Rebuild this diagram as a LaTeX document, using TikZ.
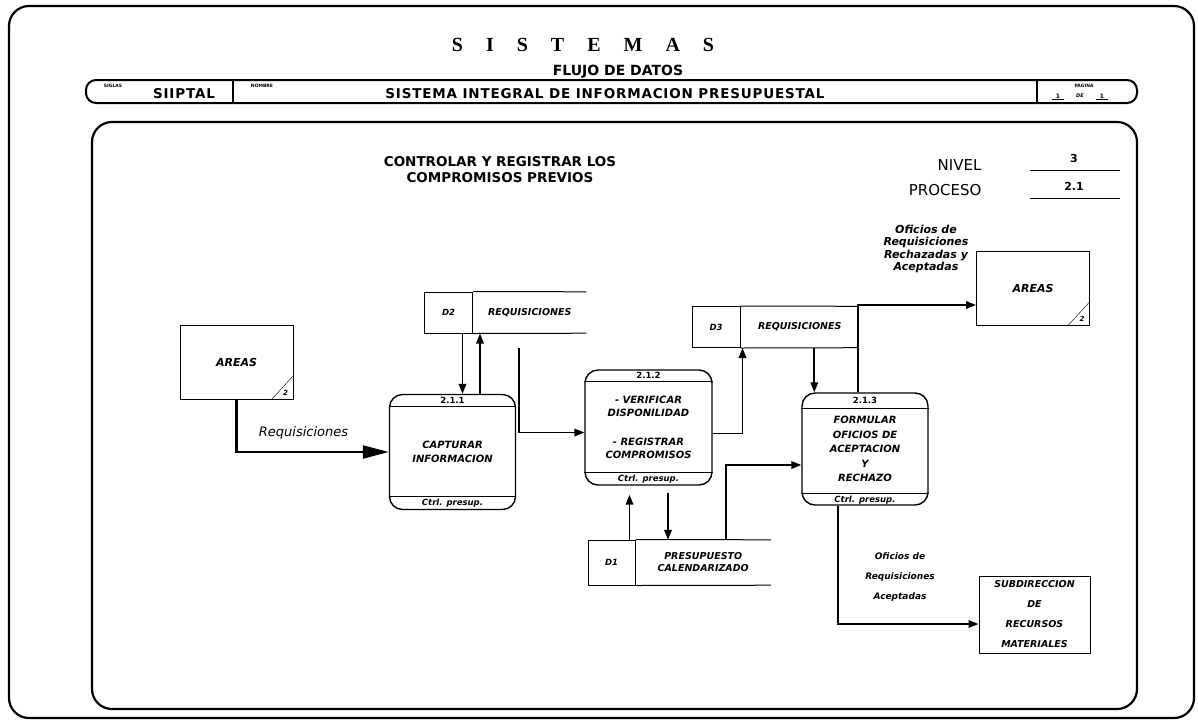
\documentclass[tikz,border=0pt]{standalone}
\usepackage{fontspec}
\setmainfont{DejaVu Sans}
\newfontfamily\titlefont{Liberation Serif}
\usetikzlibrary{arrows.meta,positioning}

\begin{document}
\begin{tikzpicture}[
    x=1pt, y=-1pt,
    frame/.style={draw, line width=2.2pt, rounded corners=20pt},
    proc/.style={draw, line width=1.4pt, rounded corners=13pt, minimum width=126pt, minimum height=115pt, inner sep=0pt, align=center, font=\fontsize{10}{14}\selectfont\bfseries\itshape},
    procid/.style={inner sep=1pt, font=\fontsize{8.5}{9}\selectfont\bfseries},
    ctrl/.style={inner sep=1pt, font=\fontsize{8.5}{9}\selectfont\bfseries\itshape},
    storeid/.style={draw, line width=1pt, minimum width=48pt, minimum height=41pt, inner sep=0pt, font=\fontsize{8.5}{9}\selectfont\bfseries\itshape},
    storenm/.style={minimum height=41pt, inner sep=0pt, align=center, font=\fontsize{9.5}{12}\selectfont\bfseries\itshape},
    entity/.style={draw, line width=1pt, minimum width=113pt, minimum height=74pt, align=center, font=\fontsize{11}{13}\selectfont\bfseries\itshape},
    tag/.style={inner sep=0pt, font=\fontsize{7}{8}\selectfont\bfseries\itshape},
    flow/.style={line width=1.9pt, -{Triangle[length=10pt,width=7.5pt]}},
    bigflow/.style={line width=2.2pt, -{Triangle[length=26pt,width=13pt]}},
    lbl/.style={inner sep=0pt, align=center, font=\fontsize{13}{15}\selectfont\itshape},
    hdr/.style={font=\fontsize{13.5}{16}\selectfont\bfseries\addfontfeature{LetterSpace=6}},
    tiny/.style={inner sep=0pt, font=\fontsize{4.5}{5}\selectfont\bfseries}
]
\useasboundingbox (0,0) rectangle (1198,721);

% sheet and header
\draw[frame] (9,6) rectangle (1194,718);
\draw[frame] (92,122) rectangle (1137,709);
\node[font=\titlefont\fontsize{20}{24}\selectfont\bfseries] (ttl) at (583,45) {\spaceskip=23pt S I S T E M A S};
\node[font=\fontsize{14}{16}\selectfont\bfseries] (ttl2) at (618,72) {FLUJO DE DATOS};

\draw[line width=2pt, rounded corners=10pt] (86,80) rectangle (1137,103);
\draw[line width=1.5pt] (233,80) -- (233,103) (1037,80) -- (1037,103);
\node[tiny] (siglas) at (113,86) {SIGLAS};
\node[hdr] (sist) at (184,94) {SIIPTAL};
\node[tiny] (nombre) at (262,86) {NOMBRE};
\node[hdr] (nom) at (605,94) {SISTEMA INTEGRAL DE INFORMACION PRESUPUESTAL};
\node[tiny] (pagina) at (1084,86) {PAGINA};
\node[tiny, font=\fontsize{6}{7}\selectfont\bfseries] (pg1) at (1058,96) {1};
\node[tiny, font=\fontsize{5}{6}\selectfont\bfseries\itshape] (pgde) at (1080,96) {DE};
\node[tiny, font=\fontsize{6}{7}\selectfont\bfseries] (pg2) at (1102,96) {1};
\draw (1052,99.5) -- (1064,99.5) (1096,99.5) -- (1108,99.5);

% titles of the level
\node[align=center, font=\fontsize{13.5}{16}\selectfont\bfseries] (tit) at (500,170) {CONTROLAR Y REGISTRAR LOS\\COMPROMISOS PREVIOS};
\node[anchor=east, font=\fontsize{15}{17}\selectfont] (nivel) at (985,165) {NIVEL};
\node[font=\fontsize{11}{13}\selectfont\bfseries] (nivn) at (1074,158) {3};
\draw (1030,170) -- (1120,170);
\node[anchor=east, font=\fontsize{15}{17}\selectfont] (proceso) at (985,190) {PROCESO};
\node[font=\fontsize{11}{13}\selectfont\bfseries] (procn) at (1074,186) {2.1};
\draw (1030,198) -- (1120,198);

% external entities
\node[entity] (a1) at (236.5,362) {AREAS};
\draw[thin] ([xshift=-22pt]a1.south east) -- ([yshift=24pt]a1.south east);
\node[tag] (a1k) at ([xshift=-8pt,yshift=7pt]a1.south east) {2};
\node[entity] (a2) at (1033,288) {AREAS};
\draw[thin] ([xshift=-22pt]a2.south east) -- ([yshift=24pt]a2.south east);
\node[tag] (a2k) at ([xshift=-8pt,yshift=7pt]a2.south east) {2};
\node[entity, minimum width=111pt, minimum height=77pt, font=\fontsize{9.5}{20}\selectfont\bfseries\itshape] (sub) at (1034.5,614.5) {SUBDIRECCION\\DE\\RECURSOS\\MATERIALES};

% data stores
\node[storeid] (d2id) at (448.5,312.5) {D2};
\node[storenm, minimum width=113pt, right=0pt of d2id] (d2nm) {REQUISICIONES};
\draw[line width=1pt] (d2id.north east) -- (d2nm.north east) (d2id.south east) -- (d2nm.south east);
\node[storeid] (d3id) at (716,327) {D3};
\node[storenm, minimum width=118pt, right=0pt of d3id] (d3nm) {REQUISICIONES};
\draw[line width=1pt] (d3id.north east) -- (d3nm.north east) (d3id.south east) -- (d3nm.south east);
\node[storeid, minimum width=47pt, minimum height=45pt] (d1id) at (611.5,562.5) {D1};
\node[storenm, minimum width=135pt, minimum height=45pt, right=0pt of d1id] (d1nm) {PRESUPUESTO\\CALENDARIZADO};
\draw[line width=1pt] (d1id.north east) -- (d1nm.north east) (d1id.south east) -- (d1nm.south east);

% processes
\node[proc] (p211) at (452.5,452) {CAPTURAR\\INFORMACION};
\draw[line width=1pt] ([yshift=-13pt]p211.north west) -- ([yshift=-13pt]p211.north east);
\draw[line width=1pt] ([yshift=14pt]p211.south west) -- ([yshift=14pt]p211.south east);
\node[procid] (p211n) at ([yshift=-6.5pt]p211.north) {2.1.1};
\node[ctrl] (p211c) at ([yshift=7pt]p211.south) {Ctrl. presup.};

\node[proc, minimum width=127pt, font=\fontsize{10}{13}\selectfont\bfseries\itshape] (p212) at (648.5,427.5) {- VERIFICAR\\DISPONILIDAD\\[16pt]- REGISTRAR\\COMPROMISOS};
\draw[line width=1pt] ([yshift=-12pt]p212.north west) -- ([yshift=-12pt]p212.north east);
\draw[line width=1pt] ([yshift=13pt]p212.south west) -- ([yshift=13pt]p212.south east);
\node[procid] (p212n) at ([yshift=-6pt]p212.north) {2.1.2};
\node[ctrl] (p212c) at ([yshift=6.5pt]p212.south) {Ctrl. presup.};

\node[proc, minimum height=112pt, font=\fontsize{10}{14.5}\selectfont\bfseries\itshape] (p213) at (865,449) {FORMULAR\\OFICIOS DE\\ACEPTACION\\Y\\RECHAZO};
\draw[line width=1pt] ([yshift=-16pt]p213.north west) -- ([yshift=-16pt]p213.north east);
\draw[line width=1pt] ([yshift=12pt]p213.south west) -- ([yshift=12pt]p213.south east);
\node[procid] (p213n) at ([yshift=-8pt]p213.north) {2.1.3};
\node[ctrl] (p213c) at ([yshift=6pt]p213.south) {Ctrl. presup.};

% flows
\draw[bigflow] (a1.south) |- node[lbl, pos=0.72, above=12pt] (rq) {Requisiciones} (p211.west);
\draw[flow] ([xshift=14pt]d2id.south) -- ([xshift=14pt]d2id.south |- p211.north);
\draw[flow] ([xshift=27.5pt]p211.north) -- ([xshift=27.5pt]p211.north |- d2id.south);
\draw[flow, shorten <=15pt] ([xshift=-10.5pt]d2nm.south) |- ([yshift=-5pt]p212.west);
\draw[flow] ([yshift=-6pt]p212.east) -| ([xshift=2pt]d3id.south east);
\draw[flow] ([xshift=13pt]p213.north west |- d3nm.south) -- ([xshift=13pt]p213.north west);
\draw[flow] ([xshift=-7pt]p213.north) |- ([yshift=-17pt]a2.west);
\node[lbl, font=\fontsize{11}{12.5}\selectfont\bfseries\itshape] (ofrech) at (926,249) {Oficios de\\Requisiciones\\Rechazadas y\\Aceptadas};
\draw[flow, shorten >=9pt] ([xshift=-6pt]d1id.north east) -- ([xshift=-6pt]d1id.north east |- p212.south);
\draw[flow, shorten <=7pt] ([xshift=19.5pt]p212.south) -- ([xshift=19.5pt]p212.south |- d1nm.north);
\draw[flow] ([xshift=22.5pt]d1nm.north) |- ([yshift=-16pt]p213.west);
\draw[flow] ([xshift=-27pt]p213.south) |- ([yshift=-9.5pt]sub.west);
\node[lbl, font=\fontsize{9}{20}\selectfont\bfseries\itshape] (ofacep) at (900,577) {Oficios de\\Requisiciones\\Aceptadas};
\end{tikzpicture}
\end{document}
